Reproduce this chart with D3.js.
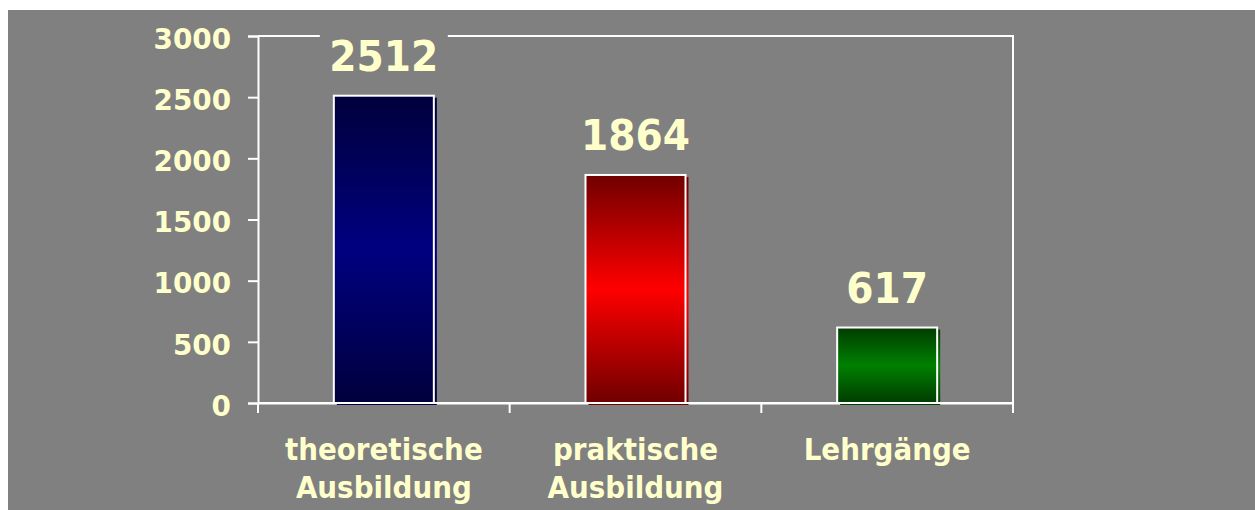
<!DOCTYPE html>
<html><head><meta charset="utf-8">
<script src="https://cdn.jsdelivr.net/npm/d3@7"></script>
<style>html,body{margin:0;padding:0;background:#fff;}svg{display:block;}</style>
</head><body>
<script>
const categories = [["theoretische","Ausbildung"],["praktische","Ausbildung"],["Lehrgänge"]];
const values = [2512, 1864, 617];
const yTicks = [0, 500, 1000, 1500, 2000, 2500, 3000];
const darkColors = ["#00003c", "#700000", "#003c00"];
const midColors = ["#000080", "#ff0000", "#008000"];

(function () {
const W = 1255, H = 510;
const svg = d3.select("body").append("svg").attr("width", W).attr("height", H);
svg.append("rect").attr("x", 8).attr("y", 10).attr("width", W - 8).attr("height", H - 10).attr("fill", "#808080");

const pL = 258, pR = 1013, pT = 36, pB = 403;
const x = d3.scaleBand().domain(d3.range(values.length)).range([pL, pR]).paddingInner(0).paddingOuter(0);
const y = d3.scaleLinear().domain([0, 3000]).range([pB, pT]);
const barW = 100;
const txt = "#ffffcc";
const font = "'DejaVu Sans', Verdana, sans-serif";

function squeeze(sel, k) {
  sel.each(function () {
    const w = this.getComputedTextLength();
    d3.select(this).attr("textLength", w * k).attr("lengthAdjust", "spacingAndGlyphs");
  });
}

const defs = svg.append("defs");
values.forEach((v, i) => {
  const g = defs.append("linearGradient").attr("id", "g" + i).attr("x1", 0).attr("y1", 0).attr("x2", 0).attr("y2", 1);
  g.append("stop").attr("offset", "0%").attr("stop-color", darkColors[i]);
  g.append("stop").attr("offset", "50%").attr("stop-color", midColors[i]);
  g.append("stop").attr("offset", "100%").attr("stop-color", darkColors[i]);
});

// plot frame (top & right)
svg.append("path").attr("d", `M${pL},${pT}H${pR}V${pB}`).attr("fill", "none").attr("stroke", "#fff").attr("stroke-width", 2);

// y axis
const yAxis = svg.append("g").attr("transform", `translate(${pL},0)`)
  .call(d3.axisLeft(y).tickValues(yTicks).tickSize(10).tickPadding(17).tickFormat(d3.format("d")));
yAxis.select(".domain").attr("stroke", "#fff").attr("stroke-width", 2);
yAxis.selectAll(".tick line").attr("stroke", "#fff").attr("stroke-width", 2);
const yt = yAxis.selectAll(".tick text").attr("fill", txt).attr("font-family", font).attr("font-weight", "bold").attr("font-size", 29).attr("dy", "0.42em");
squeeze(yt, 0.96);

// x axis
const xAxis = svg.append("g").attr("transform", `translate(0,${pB})`)
  .call(d3.axisBottom(x).tickValues([]).tickSizeOuter(0));
xAxis.select(".domain").attr("stroke", "#fff").attr("stroke-width", 2);
const boundaries = d3.range(values.length + 1).map(i => i < values.length ? x(i) : x(values.length - 1) + x.bandwidth());
svg.append("g").selectAll("line").data(boundaries).join("line")
  .attr("x1", d => d).attr("x2", d => d).attr("y1", pB).attr("y2", pB + 10)
  .attr("stroke", "#fff").attr("stroke-width", 2);

// bars
const bars = svg.append("g").selectAll("g").data(values).join("g");
bars.append("rect")
  .attr("x", (d, i) => x(i) + (x.bandwidth() - barW) / 2 + 3)
  .attr("y", d => y(d) + 2)
  .attr("width", barW).attr("height", d => pB - y(d))
  .attr("fill", (d, i) => `url(#g${i})`);
bars.append("rect")
  .attr("x", (d, i) => x(i) + (x.bandwidth() - barW) / 2)
  .attr("y", d => y(d))
  .attr("width", barW).attr("height", d => pB - y(d))
  .attr("fill", (d, i) => `url(#g${i})`)
  .attr("stroke", "#fff").attr("stroke-width", 2);
svg.append("line").attr("x1", pL).attr("x2", pR).attr("y1", pB).attr("y2", pB).attr("stroke", "#fff").attr("stroke-width", 2);

// value labels with gray background
const labels = svg.append("g").selectAll("g").data(values).join("g")
  .attr("transform", (d, i) => `translate(${x(i) + x.bandwidth() / 2},${y(d) - 25})`);
labels.append("rect").attr("x", -64).attr("y", -40).attr("width", 128).attr("height", 50).attr("fill", "#808080");
const vt = labels.append("text").text(d => d).attr("text-anchor", "middle")
  .attr("fill", txt).attr("font-family", font).attr("font-weight", "bold").attr("font-size", 43.5);
squeeze(vt, 0.9);

// category labels
const cats = svg.append("g").selectAll("text").data(categories).join("text")
  .attr("x", (d, i) => x(i) + x.bandwidth() / 2).attr("y", 460)
  .attr("text-anchor", "middle").attr("fill", txt).attr("font-family", font).attr("font-weight", "bold").attr("font-size", 30.5);
const ct = cats.selectAll("tspan").data(d => d).join("tspan")
  .attr("x", function() { return d3.select(this.parentNode).attr("x"); })
  .attr("dy", (d, j) => j === 0 ? 0 : 38).text(d => d);
squeeze(ct, 0.91);
})();
</script>
</body></html>
